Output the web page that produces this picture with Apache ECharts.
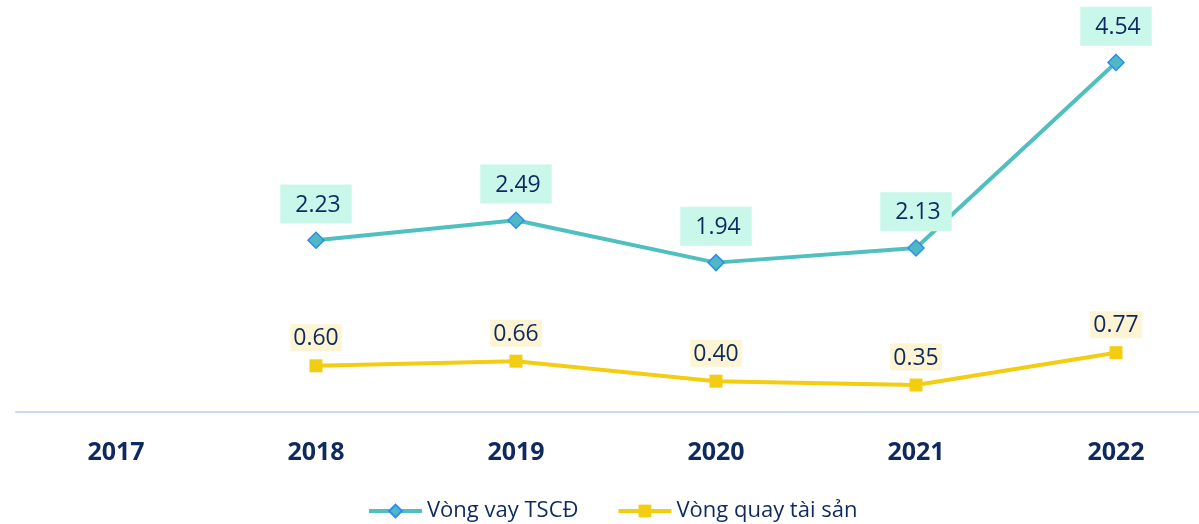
<!DOCTYPE html>
<html>
<head>
<meta charset="utf-8">
<script src="https://cdn.jsdelivr.net/npm/echarts@6/dist/echarts.min.js"></script>
<style>
    html, body { margin: 0; padding: 0; background: #fff; }
    #chart { width: 1199px; height: 524px; }
</style>
</head>
<body>
<div id="chart"></div>
<script>
    const years = ['2017', '2018', '2019', '2020', '2021', '2022'];
    const vongVay = [null, 2.23, 2.49, 1.94, 2.13, 4.54];
    const vongQuay = [null, 0.60, 0.66, 0.40, 0.35, 0.77];

    const font = '"Open Sans", "Noto Sans", sans-serif';
    const textColor = '#0e2a5f';

    const myChart = echarts.init(document.getElementById('chart'));
    const option = {
        animation: false,
        textStyle: { fontFamily: font },
        grid: {
            left: 16,
            width: 1200,
            top: 27,
            bottom: 112,
            outerBoundsMode: 'none'
        },
        legend: {
            left: 367,
            top: 500,
            padding: 0,
            itemWidth: 53,
            itemHeight: 16,
            itemGap: 38,
            lineStyle: { width: 4 },
            textStyle: { fontSize: 22, color: textColor, fontFamily: font },
            data: ['Vòng vay TSCĐ', 'Vòng quay tài sản']
        },
        xAxis: {
            type: 'category',
            data: years,
            axisLine: { lineStyle: { color: '#c6daf7', width: 2 } },
            axisTick: { show: false },
            axisLabel: {
                margin: 28,
                fontSize: 25,
                fontWeight: 'bold',
                color: textColor,
                fontFamily: font
            }
        },
        yAxis: {
            type: 'value',
            min: 0,
            max: 5,
            show: false,
            splitLine: { show: false }
        },
        series: [
            {
                name: 'Vòng vay TSCĐ',
                type: 'line',
                data: vongVay,
                symbol: 'diamond',
                symbolSize: 16,
                lineStyle: { color: '#4fbfbf', width: 4 },
                itemStyle: { color: '#4fb8c2', borderColor: '#2b8ef0', borderWidth: 1.5 },
                label: {
                    show: true,
                    position: 'top',
                    distance: 8,
                    formatter: p => p.value.toFixed(2),
                    fontSize: 23,
                    color: textColor,
                    backgroundColor: '#c9f7ea',
                    padding: [9, 11, 7, 15]
                }
            },
            {
                name: 'Vòng quay tài sản',
                type: 'line',
                data: vongQuay,
                symbol: 'rect',
                symbolSize: 13,
                lineStyle: { color: '#f3cd12', width: 4 },
                itemStyle: { color: '#f3cd12' },
                label: {
                    show: true,
                    position: 'top',
                    distance: 8,
                    formatter: p => p.value.toFixed(2),
                    fontSize: 23,
                    color: textColor,
                    backgroundColor: '#fcf4d2',
                    padding: [3, 3, 1, 3]
                }
            }
        ]
    };
    myChart.setOption(option);
</script>
</body>
</html>
